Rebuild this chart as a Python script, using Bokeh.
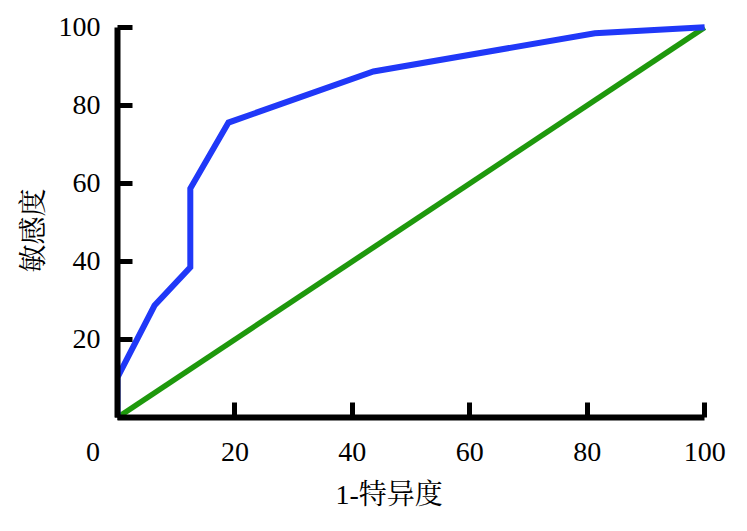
from bokeh.plotting import figure
from bokeh.models import FixedTicker, Title
from bokeh.embed import file_html
from bokeh.resources import INLINE

# ROC curve data (percent)
roc_fpr = [0, 0, 6.3, 12.4, 12.4, 18.9, 43.6, 81.3, 100]
roc_tpr = [0, 10.3, 28.7, 38.5, 58.7, 75.6, 88.7, 98.5, 100]
ref_x = [0, 100]
ref_y = [0, 100]
tick_values = [0, 20, 40, 60, 80, 100]
x_label = "1-特异度"
y_label = "敏感度"

FONT = "Liberation Serif, Noto Serif CJK SC, Noto Sans CJK SC, serif"

p = figure(
    frame_width=593, frame_height=396,
    x_range=(0, 101), y_range=(0, 101.5),
    output_backend="svg", toolbar_location=None,
    min_border_left=117, min_border_right=28,
    min_border_top=21, min_border_bottom=106,
)
p.outline_line_color = None
p.grid.visible = False
p.background_fill_color = "white"
p.border_fill_color = "white"

p.line(ref_x, ref_y, line_color="#1e980c", line_width=5.5)
p.line(roc_fpr, roc_tpr, line_color="#2038f8", line_width=6, line_join="miter")

for ax in (p.xaxis[0], p.yaxis[0]):
    ax.ticker = FixedTicker(ticks=tick_values)
    ax.bounds = (0, 100)
    ax.axis_line_width = 6
    ax.axis_line_color = "black"
    ax.major_tick_in = 15
    ax.major_tick_out = 0
    ax.major_tick_line_width = 5
    ax.major_tick_line_color = "black"
    ax.minor_tick_line_color = None
    ax.major_label_text_font = FONT
    ax.major_label_text_font_size = "28px"
    ax.major_label_text_color = "black"

# shared origin "0" drawn left of the corner (padded with no-break spaces)
p.xaxis.major_label_overrides = {0: "0" + "\u00a0" * 7}
p.yaxis.major_label_overrides = {0: ""}
p.xaxis.major_label_standoff = 18
p.yaxis.major_label_standoff = 17

# axis titles
p.add_layout(Title(text=x_label, align="left", offset=218, standoff=14,
                   text_font=FONT, text_font_size="28px",
                   text_font_style="normal", text_color="black"), "below")
p.add_layout(Title(text=y_label, align="left", offset=145, standoff=14,
                   text_font=FONT, text_font_size="28px",
                   text_font_style="normal", text_color="black"), "left")

open("out.html", "w").write(file_html(p, INLINE))
